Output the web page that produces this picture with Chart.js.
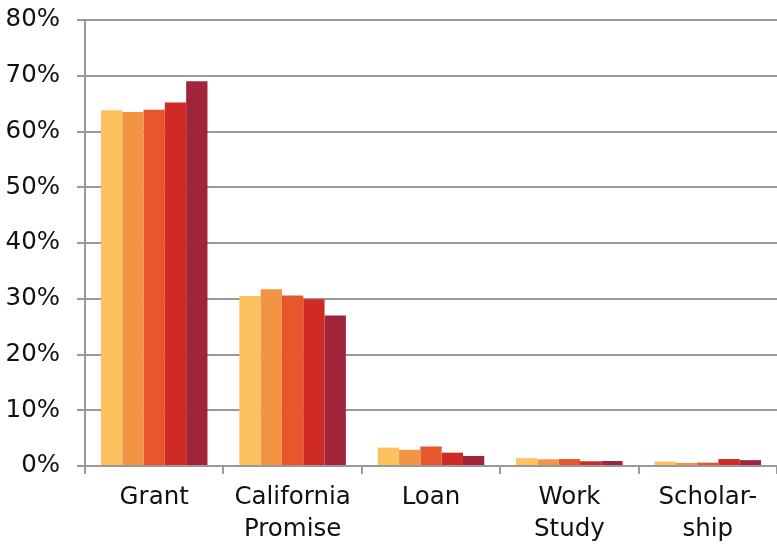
<!DOCTYPE html>
<html>
<head>
<meta charset="utf-8">
<script src="https://cdn.jsdelivr.net/npm/chart.js@4"></script>
<style>
  html, body { margin: 0; padding: 0; background: #fff; }
  #wrap { width: 777px; height: 545px; }
</style>
</head>
<body>
<div id="wrap"><canvas id="myChart" width="777" height="545"></canvas></div>
<script>
// categories (multi-line labels)
var categories = [["Grant"], ["California", "Promise"], ["Loan"], ["Work", "Study"], ["Scholar-", "ship"]];
// one series per year, left to right in each group
var series1 = [63.8, 30.5, 3.3, 1.4, 0.8];
var series2 = [63.5, 31.7, 2.9, 1.2, 0.55];
var series3 = [63.9, 30.6, 3.5, 1.25, 0.6];
var series4 = [65.2, 29.9, 2.4, 0.85, 1.25];
var series5 = [69.0, 27.0, 1.8, 0.9, 1.05];
var seriesNames = ["Series 1", "Series 2", "Series 3", "Series 4", "Series 5"];
var colors = ['#FDC25F', '#F39444', '#E8562E', '#CF2A23', '#A0253A'];
var yTicks = [0, 10, 20, 30, 40, 50, 60, 70, 80];

var allSeries = [series1, series2, series3, series4, series5];
var datasets = allSeries.map(function (vals, i) {
    return {
        label: seriesNames[i],
        data: vals,
        backgroundColor: colors[i],
        borderWidth: 0,
        categoryPercentage: 0.77,
        barPercentage: 1.0
    };
});

var ctx = document.getElementById('myChart').getContext('2d');
var chart = new Chart(ctx, {
    type: 'bar',
    data: {
        labels: categories,
        datasets: datasets
    },
    options: {
        responsive: false,
        animation: false,
        layout: {
            padding: { left: 0, top: 20, right: 0, bottom: 0 }
        },
        plugins: {
            legend: { display: false },
            tooltip: { enabled: false }
        },
        scales: {
            x: {
                afterFit: function (axis) {
                    axis.height = 79;
                    axis.paddingLeft = 0;
                    axis.paddingRight = 0;
                },
                grid: {
                    offset: true,
                    drawOnChartArea: false,
                    drawTicks: true,
                    tickLength: 8,
                    color: '#999999',
                    lineWidth: 2
                },
                border: { color: '#999999', width: 2 },
                ticks: {
                    color: '#111111',
                    font: { family: 'DejaVu Sans', size: 24.5, lineHeight: 1.3 },
                    padding: 8,
                    maxRotation: 0,
                    autoSkip: false
                }
            },
            y: {
                min: 0,
                max: 80,
                afterBuildTicks: function (axis) {
                    axis.ticks = yTicks.map(function (v) { return { value: v }; });
                },
                afterFit: function (axis) {
                    axis.width = 85;
                    axis.paddingTop = 0;
                    axis.paddingBottom = 0;
                },
                grid: {
                    color: '#999999',
                    lineWidth: 2,
                    tickLength: 8
                },
                border: { color: '#999999', width: 2 },
                ticks: {
                    color: '#111111',
                    font: { family: 'DejaVu Sans', size: 24.5 },
                    padding: 17,
                    callback: function (v) { return v + '%'; }
                }
            }
        }
    }
});
</script>
</body>
</html>
